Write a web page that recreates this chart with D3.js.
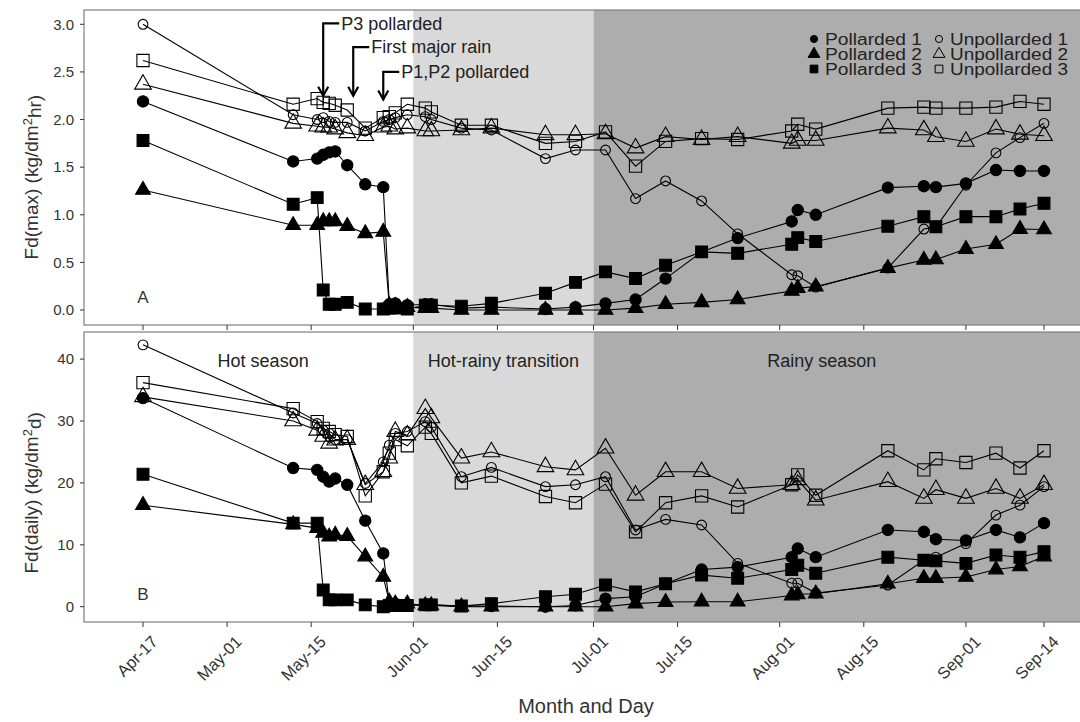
<!DOCTYPE html>
<html>
<head>
<meta charset="utf-8" />
<script src="https://cdn.jsdelivr.net/npm/d3@7"></script>
<style>
  body { margin: 0; background: #fff; }
  svg text { font-family: Arial, "Liberation Sans", sans-serif; fill: #1a1a1a; }
</style>
</head>
<body>
<div id="chart"></div>
<script>
// sampling dates (2015)
var dates = ["04-17","05-12","05-16","05-17","05-18","05-19","05-21","05-24","05-27","05-28","05-29","05-31",
  "06-03","06-04","06-09","06-14","06-23","06-28","07-03","07-08","07-13","07-19","07-25",
  "08-03","08-04","08-07","08-19","08-25","08-27","09-01","09-06","09-10","09-14"];

// panel A : Fd(max)
var p1Max = [2.19,1.56,1.59,1.63,1.655,1.665,1.52,1.32,1.29,0.06,0.07,0.05,0.06,0.06,0.02,0.03,0.01,0.03,0.07,0.11,0.33,0.61,0.755,0.93,1.05,1.0,1.285,1.30,1.29,1.33,1.47,1.46,1.46];
var p2Max = [1.26,0.89,0.89,0.93,0.93,0.93,0.88,0.805,0.82,0.05,0.04,0.03,0.02,0.02,0.0,0.0,0.0,0.0,0.0,0.02,0.06,0.08,0.11,0.20,0.23,0.245,0.44,0.525,0.53,0.64,0.69,0.85,0.845];
var p3Max = [1.78,1.11,1.18,0.21,0.06,0.06,0.08,0.01,0.01,0.02,0.02,0.01,0.05,0.05,0.04,0.07,0.175,0.29,0.40,0.33,0.47,0.61,0.595,0.69,0.76,0.72,0.88,0.98,0.875,0.98,0.98,1.06,1.12];
var u1Max = [3.0,2.05,2.0,2.02,1.98,1.97,1.97,1.88,1.98,2.0,2.02,2.05,2.03,2.0,1.91,1.89,1.59,1.68,1.68,1.17,1.355,1.145,0.80,0.37,0.36,0.24,0.44,0.85,0.87,1.31,1.65,1.81,1.96];
var u2Max = [2.37,1.96,1.93,1.92,1.92,1.90,1.86,1.83,1.92,1.93,1.90,1.91,1.88,1.88,1.89,1.91,1.84,1.84,1.85,1.70,1.82,1.79,1.82,1.75,1.78,1.78,1.91,1.89,1.82,1.77,1.90,1.845,1.83];
var u3Max = [2.62,2.16,2.22,2.18,2.17,2.15,2.10,1.91,2.02,2.03,2.07,2.16,2.12,2.08,1.94,1.94,1.75,1.77,1.87,1.51,1.77,1.80,1.79,1.88,1.95,1.90,2.12,2.13,2.12,2.12,2.13,2.19,2.16];

// panel B : Fd(daily)
var p1Day = [33.7,22.4,22.1,21.0,20.2,20.7,19.7,13.9,8.6,0.5,0.5,0.3,0.3,0.3,0.1,0.1,0.0,0.2,1.3,1.6,3.7,6.0,6.4,8.0,9.4,8.0,12.4,12.1,10.9,10.7,12.4,11.2,13.5];
var p2Day = [16.4,13.3,12.7,11.9,11.3,11.6,11.4,8.1,4.8,0.8,0.5,0.5,0.2,0.2,0.0,0.0,0.0,0.0,0.0,0.5,0.75,0.8,0.8,1.8,2.0,2.1,3.7,4.6,4.6,4.8,6.0,6.5,8.1];
var p3Day = [21.4,13.5,13.5,2.7,1.1,1.1,1.1,0.3,0.0,0.2,0.2,0.2,0.3,0.3,0.1,0.5,1.6,2.0,3.5,2.4,3.7,5.1,4.6,6.0,6.7,5.4,8.0,7.5,7.4,7.0,8.35,8.0,8.9];
var u1Day = [42.3,31.3,29.6,28.5,28.0,27.0,27.0,19.9,23.4,26.1,28.0,28.3,29.9,29.0,21.0,22.5,19.4,19.7,21.0,12.4,14.1,13.2,7.0,3.8,3.8,2.2,3.5,7.5,8.0,10.2,14.8,16.4,19.4];
var u2Day = [33.9,30.0,28.5,27.5,26.4,26.9,27.0,19.7,21.8,24.0,28.3,27.7,32.0,30.5,24.0,25.0,22.6,22.1,25.6,18.0,21.8,21.8,19.1,19.7,20.5,17.2,20.2,17.5,18.9,17.5,19.1,17.5,19.7];
var u3Day = [36.2,32.0,29.9,28.8,28.3,27.8,27.5,17.9,21.8,24.8,27.0,26.0,29.0,28.0,20.0,21.1,17.8,16.8,19.8,12.1,16.8,17.9,16.1,19.7,21.3,18.0,25.2,22.1,23.9,23.3,24.8,22.4,25.2];

var seriesNames = ["Pollarded 1","Pollarded 2","Pollarded 3","Unpollarded 1","Unpollarded 2","Unpollarded 3"];
var xTickDates = ["04-17","05-01","05-15","06-01","06-15","07-01","07-15","08-01","08-15","09-01","09-14"];
var xTickLabels = ["Apr-17","May-01","May-15","Jun-01","Jun-15","Jul-01","Jul-15","Aug-01","Aug-15","Sep-01","Sep-14"];
var yTicksA = [0,0.5,1,1.5,2,2.5,3];
var yTicksB = [0,10,20,30,40];
var seasonStarts = ["06-01","07-01"];
var seasonEnds = ["07-01","10-01"];
var seasonNames = ["Hot season","Hot-rainy transition","Rainy season"];
var seasonLabelDates = ["05-07","06-16","08-08"];
var arrowDates = ["05-17","05-22","05-27"];
var arrowTop = [3.01,2.76,2.50];
var arrowTip = [2.25,2.25,2.21];
var arrowTexts = ["P3 pollarded","First major rain","P1,P2 pollarded"];

var W = 1080, H = 722;
var parse = d3.utcParse("%Y-%m-%d");
function dt(s) { return parse("2015-" + s); }

var svg = d3.select("#chart").append("svg").attr("width", W).attr("height", H);

var x = d3.scaleUtc().domain([dt("04-17"), dt("09-14")]).range([143, 1044]);
var left = 84, right = 1110;

var panels = [
  { top: 10, bottom: 325, y: d3.scaleLinear().domain([0,3]).range([310,24.3]), ticks: yTicksA, fmt: d3.format(".1f"),
    data: [p1Max,p2Max,p3Max,u1Max,u2Max,u3Max], label: "A", title: ["Fd(max) (kg/dm","2","hr)"] },
  { top: 332, bottom: 622, y: d3.scaleLinear().domain([0,40]).range([606.7,359.1]), ticks: yTicksB, fmt: d3.format("d"),
    data: [p1Day,p2Day,p3Day,u1Day,u2Day,u3Day], label: "B", title: ["Fd(daily) (kg/dm","2","d)"] }
];

var shapes = [d3.symbolCircle, d3.symbolTriangle, d3.symbolSquare, d3.symbolCircle, d3.symbolTriangle, d3.symbolSquare];
var sizes = [100, 95, 140, 75, 120, 150];
var filled = [true,true,true,false,false,false];
var shadeFill = ["#d9d9d9", "#adadad"];

panels.forEach(function(p, pi) {
  var g = svg.append("g");
  // background + season shading
  g.append("rect").attr("x", left).attr("y", p.top).attr("width", right-left).attr("height", p.bottom-p.top).attr("fill", "#fff");
  seasonStarts.forEach(function(s, i) {
    g.append("rect")
      .attr("x", x(dt(s))).attr("y", p.top)
      .attr("width", x(dt(seasonEnds[i])) - x(dt(s)))
      .attr("height", p.bottom - p.top)
      .attr("fill", shadeFill[i]);
  });

  // series
  p.data.forEach(function(vals, si) {
    var pts = vals.map(function(v, i) { return [dt(dates[i]), v]; }).filter(function(d){ return d[1] != null; });
    g.append("path")
      .datum(pts)
      .attr("fill", "none").attr("stroke", "#000").attr("stroke-width", 1.1)
      .attr("d", d3.line().x(function(d){ return x(d[0]); }).y(function(d){ return p.y(d[1]); }));
    g.selectAll(".m" + si).data(pts).enter().append("path")
      .attr("transform", function(d){ return "translate(" + x(d[0]) + "," + p.y(d[1]) + ")"; })
      .attr("d", d3.symbol().type(shapes[si]).size(sizes[si]))
      .attr("fill", filled[si] ? "#000" : "none")
      .attr("stroke", "#000").attr("stroke-width", 1.1);
  });

  // frame
  g.append("rect").attr("x", left).attr("y", p.top).attr("width", right-left).attr("height", p.bottom-p.top)
    .attr("fill", "none").attr("stroke", "#7f7f7f").attr("stroke-width", 1.2);

  // y axis
  p.ticks.forEach(function(t) {
    g.append("line").attr("x1", left-4).attr("x2", left).attr("y1", p.y(t)).attr("y2", p.y(t)).attr("stroke", "#333");
    g.append("text").attr("x", left-10).attr("y", p.y(t)).attr("dy", "0.35em").attr("text-anchor", "end")
      .style("font-size", "15px").style("fill", "#333").text(p.fmt(t));
  });
  // x ticks
  xTickDates.forEach(function(s) {
    g.append("line").attr("x1", x(dt(s))).attr("x2", x(dt(s))).attr("y1", p.bottom).attr("y2", p.bottom+5).attr("stroke", "#333");
  });

  // panel letter
  g.append("text").attr("x", x(dt("04-17"))).attr("y", p.bottom - 22).attr("text-anchor", "middle")
    .style("font-size", "17px").style("fill", "#333").text(p.label);

  // y title
  var yc = (p.y.range()[0] + p.y.range()[1]) / 2 + 10;
  var t = g.append("text").attr("transform", "translate(38," + yc + ") rotate(-90)")
    .attr("text-anchor", "middle").style("font-size", "19px").style("fill", "#333");
  t.append("tspan").text(p.title[0]);
  t.append("tspan").attr("dy", "-0.45em").style("font-size", "13px").text(p.title[1]);
  t.append("tspan").attr("dy", "0.45em").text(p.title[2]);
});

// x tick labels under panel B
xTickDates.forEach(function(s, i) {
  svg.append("text")
    .attr("transform", "translate(" + (x(dt(s)) + 7) + ",634) rotate(-45)")
    .attr("text-anchor", "end").attr("dy", "0.75em")
    .style("font-size", "16.5px").style("fill", "#333").text(xTickLabels[i]);
});
svg.append("text").attr("x", 586).attr("y", 713).attr("text-anchor", "middle")
  .style("font-size", "20px").style("fill", "#333").text("Month and Day");

// season labels (panel B)
seasonNames.forEach(function(s, i) {
  svg.append("text").attr("x", x(dt(seasonLabelDates[i]))).attr("y", 367).attr("text-anchor", "middle")
    .style("font-size", "18px").style("fill", "#222").text(s);
});

// pollarding / rain arrows (panel A)
var yA = panels[0].y;
arrowDates.forEach(function(s, i) {
  var ax = x(dt(s)), y0 = yA(arrowTop[i]), y1 = yA(arrowTip[i]);
  svg.append("path")
    .attr("d", "M" + (ax + 16) + "," + y0 + "H" + ax + "V" + y1)
    .attr("fill", "none").attr("stroke", "#000").attr("stroke-width", 2.2);
  svg.append("path")
    .attr("d", "M" + (ax - 5) + "," + (y1 - 9) + "L" + ax + "," + y1 + "L" + (ax + 5) + "," + (y1 - 9))
    .attr("fill", "none").attr("stroke", "#000").attr("stroke-width", 2.2);
  svg.append("text").attr("x", ax + 18).attr("y", y0).attr("dy", "0.35em")
    .style("font-size", "18px").style("fill", "#222").text(arrowTexts[i]);
});

// legend
var legX = [814, 939], legY = [39, 54, 69];
var legW = [97, 118];
seriesNames.forEach(function(n, i) {
  var col = i < 3 ? 0 : 1, row = i % 3;
  svg.append("path")
    .attr("transform", "translate(" + legX[col] + "," + legY[row] + ")")
    .attr("d", d3.symbol().type(shapes[i]).size(i % 3 === 0 ? 40 : 60))
    .attr("fill", filled[i] ? "#000" : "none").attr("stroke", "#000").attr("stroke-width", 1);
  svg.append("text").attr("x", legX[col] + 11).attr("y", legY[row]).attr("dy", "0.38em")
    .attr("textLength", legW[col]).attr("lengthAdjust", "spacingAndGlyphs")
    .style("font-size", "16px").style("fill", "#222").text(n);
});
</script>
</body>
</html>
